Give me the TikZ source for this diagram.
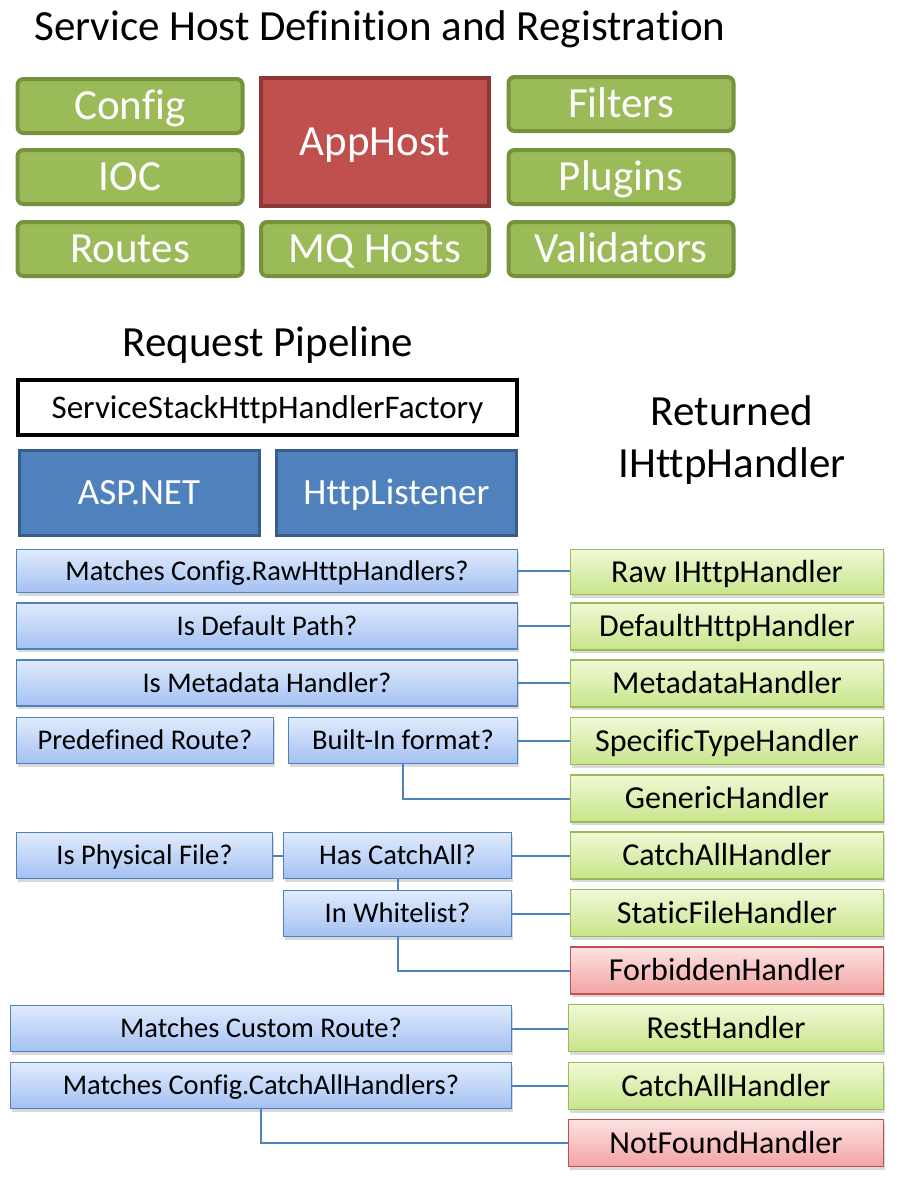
\documentclass[tikz,border=0pt]{standalone}
\usepackage{fontspec}
\setmainfont{Carlito}[Ligatures=NoCommon]
\usepackage{tikz}
\usetikzlibrary{shadows}
\usepackage{xcolor}
\definecolor{olivegreen}{RGB}{155,187,89}
\definecolor{darkolive}{RGB}{118,146,60}
\definecolor{brickred}{RGB}{192,80,77}
\definecolor{darkbrick}{RGB}{140,56,54}
\definecolor{steelblue}{RGB}{79,129,189}
\definecolor{darksteel}{RGB}{56,93,138}
\definecolor{paleblue}{RGB}{224,235,253}
\definecolor{midblue}{RGB}{164,193,242}
\definecolor{palegreen}{RGB}{240,249,214}
\definecolor{limegreen}{RGB}{199,229,138}
\definecolor{palered}{RGB}{253,227,227}
\definecolor{rosered}{RGB}{242,163,163}
\tikzset{capcentre/.style={text height=#1, text depth=0pt},
greenbox/.style={capcentre=27.5pt, draw=darkolive, fill=olivegreen, line width=4pt, rounded corners=6pt, text=white, font=\fontsize{43}{52}\selectfont, minimum width=225pt, minimum height=54pt, inner sep=0pt},
redbox/.style={capcentre=27.5pt, draw=darkbrick, fill=brickred, line width=4pt, text=white, font=\fontsize{43}{52}\selectfont, minimum width=228pt, minimum height=128pt, inner sep=0pt},
hostbox/.style={capcentre=23.7pt, draw=darksteel, fill=steelblue, line width=3pt, text=white, font=\fontsize{37}{44}\selectfont, minimum width=240pt, minimum height=85pt, inner sep=0pt},
askbox/.style={capcentre=18.2pt, draw=steelblue, top color=paleblue, bottom color=midblue, line width=1.5pt, font=\fontsize{28.5}{34}\selectfont, minimum height=46pt, inner sep=0pt, drop shadow={opacity=0.3, shadow xshift=1pt, shadow yshift=-3pt}},
okbox/.style={capcentre=20.5pt, draw=olivegreen, top color=palegreen, bottom color=limegreen, line width=1.5pt, font=\fontsize{32}{38}\selectfont, minimum width=313pt, minimum height=47pt, inner sep=0pt, drop shadow={opacity=0.3, shadow xshift=1pt, shadow yshift=-3pt}},
failbox/.style={okbox, draw=brickred, top color=palered, bottom color=rosered},
link/.style={draw=steelblue, line width=2pt}}

\begin{document}
\begin{tikzpicture}[x=1pt, y=-1pt]
    \useasboundingbox (0,0) rectangle (898,1181);

    % Registration
    \node[capcentre=27.5pt, font=\fontsize{43}{52}\selectfont] (hosttitle) at (380,27) {Service Host Definition and Registration};
    \node[greenbox] (config) at (130,106) {Config};
    \node[greenbox] (ioc) at (130,177) {IOC};
    \node[greenbox] (routes) at (130,249) {Routes};
    \node[redbox] (apphost) at (375,142) {AppHost};
    \node[greenbox, minimum width=228pt] (mqhosts) at (375,249) {MQ Hosts};
    \node[greenbox] (filters) at (621,104) {Filters};
    \node[greenbox] (plugins) at (621,177) {Plugins};
    \node[greenbox] (validators) at (621,249) {Validators};

    % Pipeline
    \node[capcentre=27.5pt, font=\fontsize{43}{52}\selectfont] (pipetitle) at (268,343) {Request Pipeline};
    \node[capcentre=21.1pt, draw=black, line width=4pt, font=\fontsize{33}{40}\selectfont, minimum width=499pt, minimum height=55pt, inner sep=0pt] (factory) at (267.5,407.5) {ServiceStackHttpHandlerFactory};
    \node[hostbox] (aspnet) at (139,493) {ASP.NET};
    \node[hostbox] (listener) at (396.5,493) {HttpListener};
    \node[font=\fontsize{43}{52}\selectfont, align=center] (returned) at (732,440) {Returned\\IHttpHandler};

    % Questions
    \node[askbox, minimum width=501pt, minimum height=43pt] (rawq) at (267,571) {Matches Config.RawHttpHandlers?};
    \node[askbox, minimum width=501pt] (defaultq) at (267,626) {Is Default Path?};
    \node[askbox, minimum width=501pt] (metaq) at (267,683) {Is Metadata Handler?};
    \node[askbox, minimum width=257pt] (predefq) at (145,740.5) {Predefined Route?};
    \node[askbox, minimum width=229pt] (formatq) at (403,740.5) {Built-In format?};
    \node[askbox, minimum width=256pt] (fileq) at (144.5,855.5) {Is Physical File?};
    \node[askbox, minimum width=228pt] (catchq) at (397.5,855.5) {Has CatchAll?};
    \node[askbox, minimum width=228pt] (whiteq) at (397.5,913.5) {In Whitelist?};
    \node[askbox, minimum width=501pt] (customq) at (261,1028.5) {Matches Custom Route?};
    \node[askbox, minimum width=501pt] (fallbackq) at (261,1085.5) {Matches Config.CatchAllHandlers?};

    % Handlers
    \node[okbox, minimum height=45pt] (rawh) at (727,572) {Raw IHttpHandler};
    \node[okbox] (defaulth) at (727,626.5) {DefaultHttpHandler};
    \node[okbox] (metah) at (727,683.5) {MetadataHandler};
    \node[okbox] (specifich) at (727,741) {SpecificTypeHandler};
    \node[okbox] (generich) at (727,798.5) {GenericHandler};
    \node[okbox] (catchh) at (727,855.5) {CatchAllHandler};
    \node[okbox] (statich) at (727,913) {StaticFileHandler};
    \node[failbox] (forbiddenh) at (727,970.5) {ForbiddenHandler};
    \node[okbox, minimum width=315pt] (resth) at (726,1028) {RestHandler};
    \node[okbox, minimum width=315pt] (fallbackh) at (726,1086) {CatchAllHandler};
    \node[failbox, minimum width=315pt] (notfoundh) at (726,1143) {NotFoundHandler};

    % Links
    \draw[link] (rawq.east) -- (rawq.east -| rawh.west);
    \draw[link] (defaultq.east) -- (defaultq.east -| defaulth.west);
    \draw[link] (metaq.east) -- (metaq.east -| metah.west);
    \draw[link] (formatq.east) -- (formatq.east -| specifich.west);
    \draw[link] (formatq.south) |- (generich.west);
    \draw[link] (fileq.east) -- (catchq.west);
    \draw[link] (catchq.east) -- (catchq.east -| catchh.west);
    \draw[link] (catchq.south) -- (whiteq.north);
    \draw[link] (whiteq.east) -- (whiteq.east -| statich.west);
    \draw[link] (whiteq.south) |- (forbiddenh.west);
    \draw[link] (customq.east) -- (customq.east -| resth.west);
    \draw[link] (fallbackq.east) -- (fallbackq.east -| fallbackh.west);
    \draw[link] (fallbackq.south) |- (notfoundh.west);
\end{tikzpicture}
\end{document}
